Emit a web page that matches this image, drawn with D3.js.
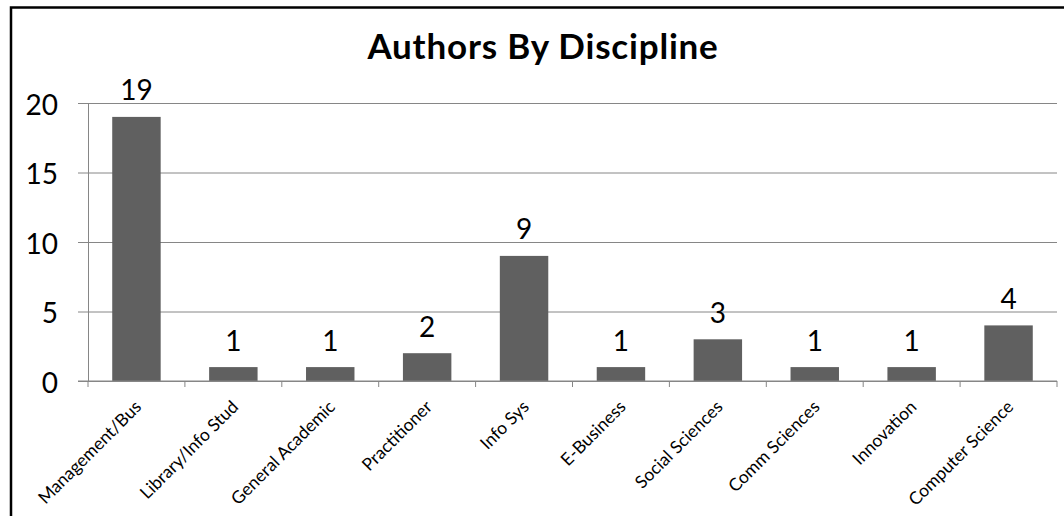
<!DOCTYPE html>
<html><head><meta charset="utf-8">
<script src="https://cdn.jsdelivr.net/npm/d3@7"></script>
<style>html,body{margin:0;padding:0;background:#fff;overflow:hidden}</style>
</head><body>
<svg id="chart" width="1064" height="516"></svg>
<script>
const categories = ["Management/Bus","Library/Info Stud","General Academic","Practitioner","Info Sys","E-Business","Social Sciences","Comm Sciences","Innovation","Computer Science"];
const values = [19,1,1,2,9,1,3,1,1,4];
const yTicks = [0,5,10,15,20];
const title = "Authors By Discipline";

const svg = d3.select("#chart");
const plotLeft = 88, plotRight = 1057, plotTop = 103, plotBottom = 381;

svg.append("rect").attr("x",11).attr("y",7.5).attr("width",1200).attr("height",700)
  .attr("fill","#fff").attr("stroke","#000").attr("stroke-width",2.5);

const x = d3.scaleBand().domain(categories).range([plotLeft,plotRight]).padding(0);
const y = d3.scaleLinear().domain([0,20]).range([plotBottom,plotTop]);

// gridlines + y axis
const yAxis = d3.axisLeft(y).tickValues(yTicks).tickSize(10).tickPadding(12);
const gy = svg.append("g").attr("transform",`translate(${plotLeft},0)`).call(yAxis);
gy.select(".domain").attr("stroke","#868686");
gy.selectAll(".tick line").attr("stroke","#868686")
  .attr("x1",-10).attr("x2",plotRight-plotLeft);
gy.selectAll(".tick text").attr("font-family","Lato").attr("font-size",28)
  .attr("fill","#000").attr("dy","0.4em").attr("x",-30);

// bars
const bw = x.bandwidth()*0.5;
svg.append("g").selectAll("rect").data(values).enter().append("rect")
  .attr("x",(d,i)=>x(categories[i])+x.bandwidth()/2-bw/2)
  .attr("y",d=>y(d)).attr("width",bw).attr("height",d=>y(0)-y(d))
  .attr("fill","#606060");

// data labels
svg.append("g").selectAll("text").data(values).enter().append("text")
  .attr("x",(d,i)=>x(categories[i])+x.bandwidth()/2)
  .attr("y",d=>y(d)-16.5).attr("text-anchor","middle")
  .attr("font-family","Lato").attr("font-size",28).attr("fill","#000")
  .text(d=>d);

// x axis
const xb = d3.scaleLinear().domain([0,categories.length]).range([plotLeft,plotRight]);
const gx = svg.append("g").attr("transform",`translate(0,${plotBottom})`);
gx.append("line").attr("x1",plotLeft-10).attr("x2",plotRight).attr("stroke","#868686");
gx.selectAll("line.t").data(d3.range(categories.length+1)).enter().append("line")
  .attr("class","t")
  .attr("x1",d=>xb(d)).attr("x2",d=>xb(d)).attr("y1",0).attr("y2",6).attr("stroke","#868686");
gx.selectAll("text.lbl").data(categories).enter().append("text")
  .attr("class","lbl")
  .attr("transform",d=>`translate(${x(d)+x.bandwidth()/2+6},27) rotate(-45)`)
  .attr("text-anchor","end").attr("font-family","Lato").attr("font-size",17.5)
  .attr("fill","#000").text(d=>d);

// title
svg.append("text").attr("x",543).attr("y",59).attr("text-anchor","middle")
  .attr("font-family","Lato").attr("font-weight","bold").attr("font-size",35)
  .attr("letter-spacing",0.8)
  .attr("fill","#000").text(title);
</script>
</body></html>
